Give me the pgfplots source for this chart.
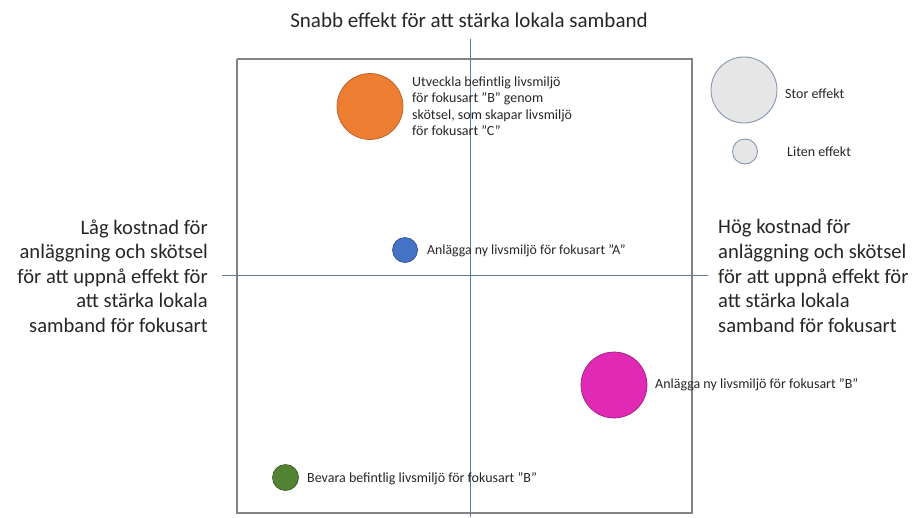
\documentclass[border=0pt]{standalone}
\usepackage{pgfplots}
\pgfplotsset{compat=1.18}
\usepackage{fontspec}
\setmainfont{Carlito}
\definecolor{boxgray}{HTML}{848484}
\definecolor{axline}{HTML}{5A7BA0}
\definecolor{borange}{HTML}{ED7D31}
\definecolor{borangeE}{HTML}{B65F26}
\definecolor{bblue}{HTML}{4472C4}
\definecolor{bblueE}{HTML}{2F528F}
\definecolor{bmag}{HTML}{E02AB4}
\definecolor{bmagE}{HTML}{A01F82}
\definecolor{bgreen}{HTML}{548235}
\definecolor{bgreenE}{HTML}{3B5C25}
\definecolor{lgfill}{HTML}{E7E6E6}
\definecolor{lgedge}{HTML}{8497B0}
\definecolor{txt}{HTML}{262626}
\begin{document}
\begin{tikzpicture}
\begin{axis}[
  width=912pt, height=517pt, scale only axis,
  xmin=0, xmax=912, ymin=0, ymax=517, y dir=reverse,
  hide axis, clip=false,
]
\path (axis cs:0,0) rectangle (axis cs:912,517);
% frame
\addplot[draw=boxgray, line width=1.2pt, mark=none] coordinates {(237,59) (692,59) (692,513) (237,513) (237,59)};
% cross lines
\addplot[draw=axline, line width=0.9pt, mark=none] coordinates {(222,275) (708,275)};
\addplot[draw=axline, line width=0.9pt, mark=none] coordinates {(470,39) (470,517)};
% bubbles
\addplot[only marks, mark=*, mark size=33, mark options={fill=borange, draw=borangeE, line width=0.7pt}] coordinates {(370,106.5)};
\addplot[only marks, mark=*, mark size=12.5, mark options={fill=bblue, draw=bblueE, line width=0.7pt}] coordinates {(405,250)};
\addplot[only marks, mark=*, mark size=33, mark options={fill=bmag, draw=bmagE, line width=0.7pt}] coordinates {(614,385)};
\addplot[only marks, mark=*, mark size=13, mark options={fill=bgreen, draw=bgreenE, line width=0.7pt}] coordinates {(285.5,477.5)};
% legend bubbles
\addplot[only marks, mark=*, mark size=33, mark options={fill=lgfill, draw=lgedge, line width=0.9pt}] coordinates {(744,90)};
\addplot[only marks, mark=*, mark size=12.5, mark options={fill=lgfill, draw=lgedge, line width=0.9pt}] coordinates {(745,151.5)};
% texts
\node[text=txt, font=\fontsize{21}{25}\selectfont] at (axis cs:469,20) {Snabb effekt för att stärka lokala samband};
\node[text=txt, anchor=east, align=right, font=\fontsize{20.6}{24.6}\selectfont, inner sep=0pt] at (axis cs:208,276) {Låg kostnad för\\anläggning och skötsel\\för att uppnå effekt för\\att stärka lokala\\samband för fokusart};
\node[text=txt, anchor=west, align=left, font=\fontsize{20.6}{24.6}\selectfont, inner sep=0pt] at (axis cs:718,276) {Hög kostnad för\\anläggning och skötsel\\för att uppnå effekt för\\att stärka lokala\\samband för fokusart};
\node[text=txt, anchor=west, align=left, font=\fontsize{14}{16.5}\selectfont, inner sep=0pt] at (axis cs:412,106) {Utveckla befintlig livsmiljö\\för fokusart ”B” genom\\skötsel, som skapar livsmiljö\\för fokusart ”C”};
\node[text=txt, anchor=west, font=\fontsize{13.8}{15}\selectfont, inner sep=0pt] at (axis cs:427,251) {Anlägga ny livsmiljö för fokusart ”A”};
\node[text=txt, anchor=west, font=\fontsize{14}{15}\selectfont, inner sep=0pt] at (axis cs:655,385) {Anlägga ny livsmiljö för fokusart ”B”};
\node[text=txt, anchor=west, font=\fontsize{14}{15}\selectfont, inner sep=0pt] at (axis cs:307,479) {Bevara befintlig livsmiljö för fokusart ”B”};
\node[text=txt, anchor=west, font=\fontsize{14}{15}\selectfont, inner sep=0pt] at (axis cs:785,94) {Stor effekt};
\node[text=txt, anchor=west, font=\fontsize{14}{15}\selectfont, inner sep=0pt] at (axis cs:787,152) {Liten effekt};
\end{axis}
\pgfresetboundingbox
\path[use as bounding box] (current axis.south west) rectangle (current axis.north east);
\end{tikzpicture}
\end{document}
